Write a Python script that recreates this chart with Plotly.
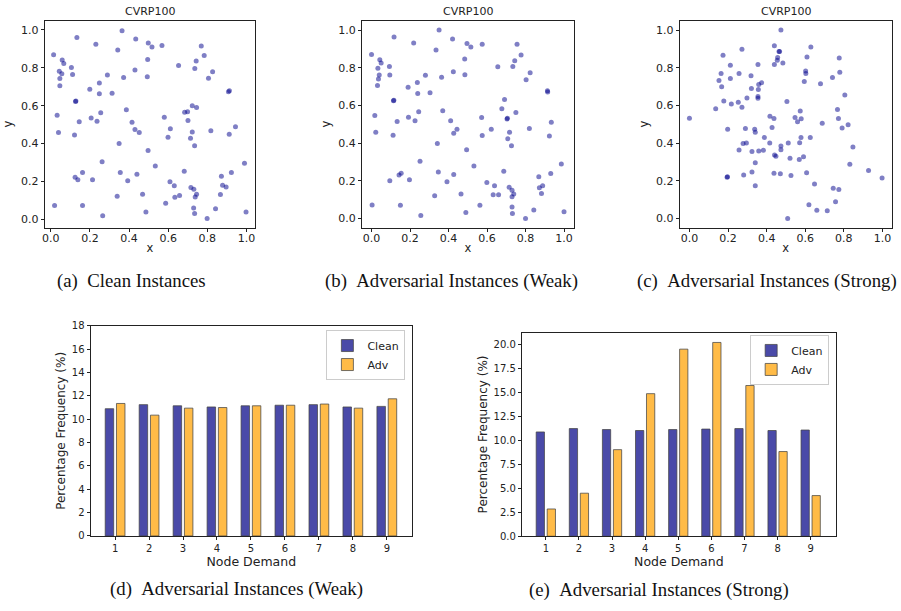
import plotly.graph_objects as go

W, H = 901, 611

# ---------------- data ----------------
clean_x = [0.014, 0.019, 0.032, 0.039, 0.043, 0.046, 0.046, 0.058, 0.056, 0.066, 0.105, 0.111, 0.133, 0.128, 0.126,
           0.121, 0.124, 0.138, 0.145, 0.162, 0.162, 0.199, 0.206, 0.213, 0.230, 0.236, 0.248, 0.248, 0.255, 0.262,
           0.265, 0.289, 0.313, 0.339, 0.342, 0.349, 0.355, 0.364, 0.372, 0.386, 0.393, 0.415, 0.430, 0.430, 0.434,
           0.440, 0.452, 0.469, 0.486, 0.493, 0.495, 0.497, 0.498, 0.517, 0.534, 0.568, 0.580, 0.587, 0.599, 0.609,
           0.611, 0.631, 0.634, 0.653, 0.658, 0.682, 0.684, 0.699, 0.701, 0.714, 0.716, 0.723, 0.723, 0.730, 0.731,
           0.735, 0.735, 0.736, 0.738, 0.743, 0.745, 0.745, 0.769, 0.784, 0.799, 0.806, 0.818, 0.827, 0.842, 0.867,
           0.872, 0.878, 0.896, 0.912, 0.913, 0.908, 0.923, 0.944, 0.990, 0.998]
clean_y = [0.868, 0.074, 0.549, 0.459, 0.782, 0.743, 0.705, 0.841, 0.768, 0.822, 0.801, 0.765, 0.959, 0.625, 0.622,
           0.446, 0.223, 0.209, 0.515, 0.247, 0.074, 0.686, 0.535, 0.209, 0.924, 0.518, 0.720, 0.663, 0.563, 0.304,
           0.019, 0.762, 0.665, 0.123, 0.893, 0.401, 0.247, 0.995, 0.748, 0.579, 0.204, 0.513, 0.788, 0.475, 0.952,
           0.238, 0.459, 0.133, 0.040, 0.753, 0.843, 0.364, 0.931, 0.910, 0.282, 0.917, 0.539, 0.085, 0.434, 0.199,
           0.478, 0.178, 0.117, 0.812, 0.126, 0.254, 0.565, 0.568, 0.522, 0.428, 0.169, 0.599, 0.461, 0.060, 0.159,
           0.031, 0.389, 0.796, 0.119, 0.836, 0.133, 0.591, 0.914, 0.865, 0.005, 0.744, 0.468, 0.779, 0.057, 0.131,
           0.228, 0.180, 0.171, 0.449, 0.679, 0.674, 0.247, 0.489, 0.297, 0.040]

weak_x = [0.000, 0.003, 0.017, 0.022, 0.033, 0.036, 0.031, 0.040, 0.043, 0.050, 0.093, 0.095, 0.095, 0.117, 0.116,
          0.114, 0.112, 0.133, 0.143, 0.154, 0.150, 0.190, 0.192, 0.197, 0.219, 0.226, 0.238, 0.240, 0.245, 0.252,
          0.256, 0.280, 0.304, 0.328, 0.335, 0.342, 0.347, 0.351, 0.364, 0.370, 0.392, 0.411, 0.425, 0.427, 0.421,
          0.427, 0.444, 0.465, 0.490, 0.484, 0.485, 0.494, 0.496, 0.516, 0.532, 0.575, 0.572, 0.563, 0.575, 0.599,
          0.622, 0.639, 0.632, 0.656, 0.660, 0.687, 0.677, 0.691, 0.706, 0.704, 0.708, 0.717, 0.715, 0.727, 0.730,
          0.730, 0.732, 0.734, 0.730, 0.739, 0.744, 0.750, 0.756, 0.777, 0.800, 0.803, 0.820, 0.824, 0.843, 0.869,
          0.872, 0.883, 0.889, 0.914, 0.915, 0.924, 0.931, 0.934, 0.986, 1.000]
weak_y = [0.871, 0.071, 0.546, 0.457, 0.797, 0.741, 0.706, 0.762, 0.843, 0.826, 0.807, 0.762, 0.200, 0.963, 0.628,
          0.625, 0.442, 0.515, 0.230, 0.240, 0.070, 0.697, 0.537, 0.205, 0.932, 0.518, 0.722, 0.663, 0.567, 0.303,
          0.016, 0.760, 0.668, 0.120, 0.894, 0.398, 0.247, 1.000, 0.750, 0.572, 0.195, 0.518, 0.779, 0.452, 0.953,
          0.233, 0.473, 0.130, 0.031, 0.847, 0.763, 0.365, 0.929, 0.911, 0.278, 0.925, 0.536, 0.070, 0.440, 0.190,
          0.473, 0.174, 0.125, 0.805, 0.125, 0.250, 0.583, 0.631, 0.532, 0.528, 0.423, 0.457, 0.165, 0.386, 0.150,
          0.061, 0.026, 0.807, 0.115, 0.129, 0.837, 0.563, 0.925, 0.868, 0.000, 0.737, 0.477, 0.774, 0.045, 0.221,
          0.163, 0.132, 0.174, 0.678, 0.671, 0.438, 0.238, 0.511, 0.289, 0.035]

strong_x = [0.000, 0.136, 0.153, 0.164, 0.167, 0.174, 0.178, 0.198, 0.195, 0.197, 0.212, 0.212, 0.217, 0.257, 0.253,
            0.257, 0.272, 0.272, 0.278, 0.281, 0.290, 0.295, 0.298, 0.319, 0.321, 0.324, 0.324, 0.338, 0.341, 0.341,
            0.341, 0.355, 0.359, 0.357, 0.355, 0.355, 0.359, 0.374, 0.383, 0.388, 0.417, 0.416, 0.428, 0.438, 0.440,
            0.440, 0.441, 0.448, 0.438, 0.455, 0.457, 0.464, 0.467, 0.474, 0.474, 0.474, 0.471, 0.484, 0.505, 0.509,
            0.512, 0.521, 0.526, 0.547, 0.560, 0.569, 0.571, 0.574, 0.578, 0.579, 0.591, 0.595, 0.602, 0.603, 0.609,
            0.607, 0.619, 0.629, 0.626, 0.648, 0.660, 0.688, 0.679, 0.714, 0.741, 0.745, 0.757, 0.767, 0.772, 0.774,
            0.776, 0.779, 0.791, 0.805, 0.822, 0.831, 0.847, 0.928, 0.998]
strong_y = [0.532, 0.583, 0.732, 0.770, 0.699, 0.866, 0.623, 0.473, 0.219, 0.221, 0.814, 0.743, 0.607, 0.769, 0.617,
            0.363, 0.899, 0.591, 0.398, 0.230, 0.478, 0.400, 0.640, 0.758, 0.690, 0.355, 0.247, 0.473, 0.457, 0.296,
            0.174, 0.817, 0.711, 0.685, 0.647, 0.638, 0.358, 0.720, 0.362, 0.430, 0.543, 0.400, 0.483, 0.530, 0.917,
            0.817, 0.337, 0.330, 0.240, 0.840, 0.855, 0.887, 0.887, 1.000, 0.384, 0.365, 0.237, 0.826, 0.621, 0.000,
            0.400, 0.320, 0.228, 0.536, 0.513, 0.313, 0.402, 0.570, 0.430, 0.529, 0.327, 0.727, 0.783, 0.769, 0.857,
            0.243, 0.073, 0.911, 0.430, 0.183, 0.043, 0.506, 0.715, 0.040, 0.748, 0.160, 0.089, 0.579, 0.530, 0.153,
            0.852, 0.776, 0.480, 0.656, 0.497, 0.287, 0.379, 0.254, 0.214]

demand = [1, 2, 3, 4, 5, 6, 7, 8, 9]
clean_freq = [10.9, 11.25, 11.15, 11.05, 11.15, 11.2, 11.25, 11.05, 11.1]
weak_adv_freq = [11.35, 10.35, 10.95, 11.0, 11.15, 11.2, 11.3, 10.95, 11.75]
strong_adv_freq = [2.85, 4.5, 9.05, 14.9, 19.55, 20.25, 15.75, 8.85, 4.25]

scatter_ticks = [0.0, 0.2, 0.4, 0.6, 0.8, 1.0]
weak_yticks = [0, 2, 4, 6, 8, 10, 12, 14, 16, 18]
strong_yticks = [0.0, 2.5, 5.0, 7.5, 10.0, 12.5, 15.0, 17.5, 20.0]

captions = ["(a)\u00a0\u00a0Clean Instances",
            "(b)\u00a0\u00a0Adversarial Instances (Weak)",
            "(c)\u00a0\u00a0Adversarial Instances (Strong)",
            "(d)\u00a0\u00a0Adversarial Instances (Weak)",
            "(e)\u00a0\u00a0Adversarial Instances (Strong)"]

# ---------------- layout helpers ----------------
def px_dom_x(l, r):
    return [l / W, r / W]

def px_dom_y(t, b):
    return [1 - b / H, 1 - t / H]

SANS = "DejaVu Sans"
SERIF = "Liberation Serif"
CLEAN_COL = "#4a4aa8"
ADV_COL = "#ffbb47"
PT_COL = "rgba(0,0,139,0.5)"
TXT = "#222"

fig = go.Figure()

axis_common = dict(showline=True, mirror=True, linecolor=TXT, linewidth=1,
                   ticks="outside", ticklen=3, tickwidth=1, tickcolor=TXT,
                   showgrid=False, zeroline=False, tickfont=dict(family=SANS, size=11, color=TXT))

scatter_boxes = [(42.7, 254.0), (360.7, 573.3), (679.3, 891.7)]
scatter_xr = [[-0.032, 1.046], [-0.050, 1.052], [-0.050, 1.048]]
scatter_yr = [[-0.043, 1.048], [-0.049, 1.050], [-0.049, 1.050]]
scatter_data = [(clean_x, clean_y), (weak_x, weak_y), (strong_x, strong_y)]

layout = dict(width=W, height=H, autosize=False, margin=dict(l=0, r=0, t=0, b=0),
              paper_bgcolor="white", plot_bgcolor="white", bargap=0.336, bargroupgap=0.247,
              barmode="group")

annotations = []
for i, ((l, r), (xs, ys)) in enumerate(zip(scatter_boxes, scatter_data)):
    n = i + 1
    xa = "x" if n == 1 else f"x{n}"
    ya = "y" if n == 1 else f"y{n}"
    fig.add_trace(go.Scatter(x=xs, y=ys, mode="markers", xaxis=xa, yaxis=ya, showlegend=False,
                             marker=dict(size=5, color=PT_COL, line=dict(width=0))))
    key = "" if n == 1 else str(n)
    layout["xaxis" + key] = dict(axis_common, domain=px_dom_x(l, r), range=scatter_xr[i], anchor=ya,
                                 tickvals=scatter_ticks, tickformat=".1f", ticklabelstandoff=-3,
                                 title=dict(text="x", font=dict(family=SANS, size=11.5, color=TXT), standoff=0))
    layout["yaxis" + key] = dict(axis_common, domain=px_dom_y(16, 226.7), range=scatter_yr[i], anchor=xa,
                                 tickvals=scatter_ticks, tickformat=".1f",
                                 title=dict(text="y", font=dict(family=SANS, size=11.5, color=TXT), standoff=5))
    annotations.append(dict(text="CVRP100", x=(l + r) / 2 / W, y=1 - 15 / H, xref="paper", yref="paper",
                            xanchor="center", yanchor="bottom", showarrow=False,
                            font=dict(family=SANS, size=11, color=TXT)))

cap_pos = [(130, 281), (450, 281), (767, 281), (235, 595), (658, 596)]
for txt, (cx, cy) in zip(captions, cap_pos):
    annotations.append(dict(text=txt, x=cx / W, y=1 - cy / H, xref="paper", yref="paper",
                            xanchor="center", yanchor="middle", showarrow=False,
                            font=dict(family=SERIF, size=18.8, color="#111")))

# bar charts
bar_specs = [
    (4, (88.7, 411.0), (326.7, 540.7), weak_adv_freq, [0, 18], weak_yticks, "", [0.276, 9.744], "legend"),
    (5, (521.0, 835.7), (333.7, 541.0), strong_adv_freq, [0, 21.27], strong_yticks, ".1f", [0.276, 9.76], "legend2"),
]
for n, (l, r), (t, b), adv, yr, yt, yfmt, xr, leg in bar_specs:
    xa, ya = f"x{n}", f"y{n}"
    fig.add_trace(go.Bar(x=demand, y=clean_freq, name="Clean", xaxis=xa, yaxis=ya, legend=leg,
                         marker=dict(color=CLEAN_COL, line=dict(color="rgba(70,70,70,0.75)", width=1))))
    fig.add_trace(go.Bar(x=demand, y=adv, name="Adv", xaxis=xa, yaxis=ya, legend=leg,
                         marker=dict(color=ADV_COL, line=dict(color="rgba(70,70,70,0.75)", width=1))))
    layout[f"xaxis{n}"] = dict(axis_common, domain=px_dom_x(l, r), range=xr, anchor=ya,
                               tickvals=demand, tickfont=dict(family=SANS, size=10, color=TXT),
                               title=dict(text="Node Demand", font=dict(family=SANS, size=12.5, color=TXT),
                                          standoff=2))
    layout[f"yaxis{n}"] = dict(axis_common, domain=px_dom_y(t, b), range=yr, anchor=xa,
                               tickvals=yt, tickformat=yfmt, tickfont=dict(family=SANS, size=10, color=TXT),
                               title=dict(text="Percentage Frequency (%)",
                                          font=dict(family=SANS, size=12, color=TXT), standoff=3))

leg_common = dict(bgcolor="rgba(255,255,255,0.9)", bordercolor="#cccccc", borderwidth=1,
                  font=dict(family=SANS, size=11, color=TXT), xanchor="right", yanchor="top",
                  xref="paper", yref="paper", itemwidth=30, tracegroupgap=0)
layout["legend"] = dict(leg_common, x=404.3 / W, y=1 - 331 / H)
layout["legend2"] = dict(leg_common, x=829 / W, y=1 - 336 / H)
layout["annotations"] = annotations

fig.update_layout(**layout)
fig.write_html("out.html", config={"displayModeBar": False},
               post_script="document.body.style.margin='0';document.body.style.padding='0';"
                           "document.documentElement.style.overflow='hidden';")
